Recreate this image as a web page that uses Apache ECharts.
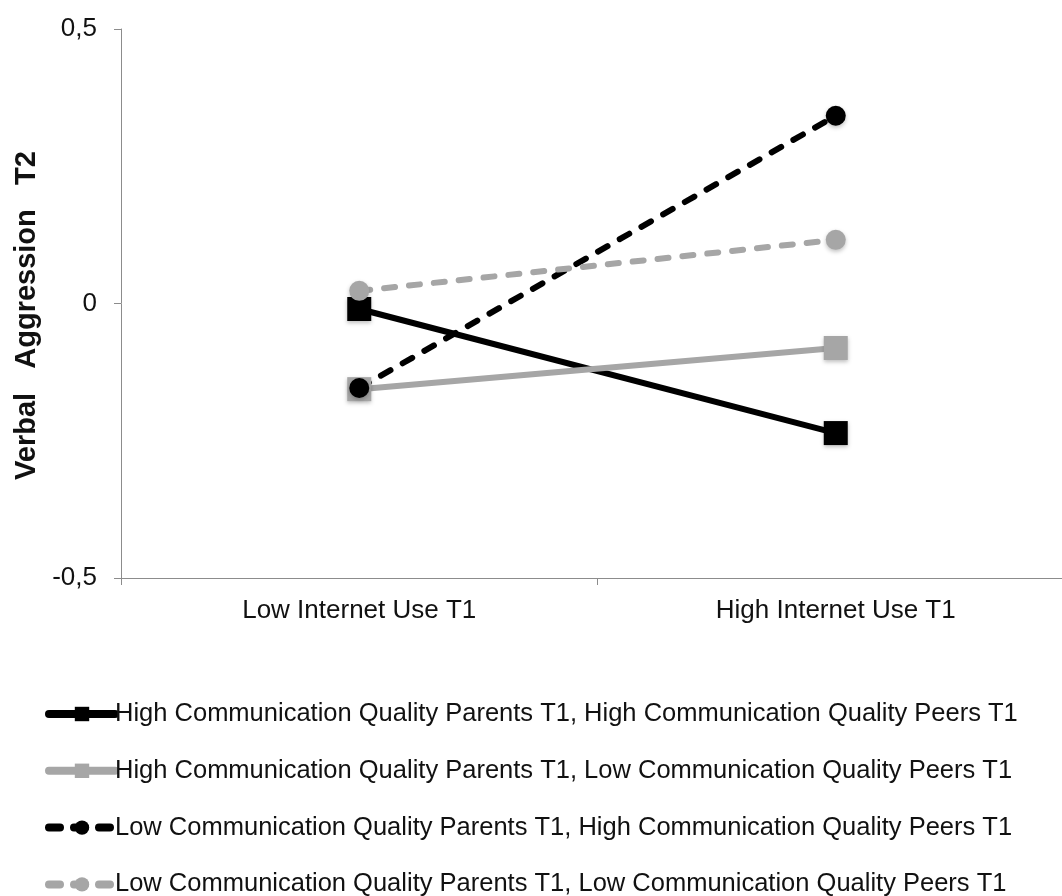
<!DOCTYPE html>
<html>
<head>
<meta charset="utf-8">
<script src="https://cdn.jsdelivr.net/npm/echarts@6/dist/echarts.min.js"></script>
<style>
    html, body { margin: 0; padding: 0; background: #fff; overflow: hidden; }
    #chart { width: 1074px; height: 910px; }
</style>
</head>
<body>
<div id="chart"></div>
<script>
    var categories = ['Low Internet Use T1', 'High Internet Use T1'];
    var seriesNames = [
        'High Communication Quality Parents T1, High Communication Quality Peers T1',
        'High Communication Quality Parents T1, Low Communication Quality Peers T1',
        'Low Communication Quality Parents T1, High Communication Quality Peers T1',
        'Low Communication Quality Parents T1, Low Communication Quality Peers T1'
    ];
    var highParHighPeer = [-0.010, -0.236];
    var highParLowPeer = [-0.156, -0.081];
    var lowParHighPeer = [-0.154, 0.342];
    var lowParLowPeer = [0.023, 0.116];

    var black = '#000000';
    var gray = '#a6a6a6';
    var font = 'Liberation Sans, Arial, sans-serif';

    function makeSeries (name, data, color, dashed, symbol, size) {
        return {
            name: name,
            type: 'line',
            data: data,
            symbol: symbol,
            symbolSize: size,
            showAllSymbol: true,
            lineStyle: {
                color: color,
                width: 6,
                type: dashed ? [11, 14] : 'solid',
                cap: dashed ? 'round' : 'butt'
            },
            itemStyle: {
                color: color,
                shadowColor: 'rgba(0,0,0,0.25)',
                shadowBlur: 4,
                shadowOffsetY: 2
            },
            emphasis: { disabled: true },
            animation: false
        };
    }

    var chart = echarts.init(document.getElementById('chart'));
    chart.setOption({
        backgroundColor: '#fff',
        grid: { left: 121, top: 29, right: 0, bottom: 332 },
        xAxis: {
            type: 'category',
            data: categories,
            boundaryGap: true,
            axisLine: { onZero: false, lineStyle: { color: '#8c8c8c', width: 1 } },
            axisTick: { show: true, length: 7, lineStyle: { color: '#8c8c8c' } },
            axisLabel: { color: '#111', fontSize: 26, fontFamily: font, margin: 20 }
        },
        yAxis: {
            type: 'value',
            min: -0.5,
            max: 0.5,
            interval: 0.5,
            name: 'Verbal   Aggression   T2   ',
            nameLocation: 'middle',
            nameGap: 69,
            nameTextStyle: { color: '#111', fontSize: 29, fontWeight: 'bold', fontFamily: font },
            axisLine: { show: true, lineStyle: { color: '#8c8c8c', width: 1 } },
            axisTick: { show: true, length: 7, lineStyle: { color: '#8c8c8c' } },
            splitLine: { show: false },
            axisLabel: {
                color: '#111',
                fontSize: 26,
                fontFamily: font,
                margin: 24,
                formatter: function (v) { return String(v).replace('.', ','); }
            }
        },
        legend: {
            orient: 'vertical',
            left: 45,
            top: 701,
            padding: 0,
            itemWidth: 66,
            itemHeight: 18,
            itemGap: 30.8,
            lineStyle: { width: 8, cap: 'round' },
            textStyle: { color: '#111', fontSize: 25.5, fontFamily: font, padding: [0, 0, 0, -5] },
            data: seriesNames
        },
        series: [
            makeSeries(seriesNames[0], highParHighPeer, black, false, 'rect', 24),
            makeSeries(seriesNames[1], highParLowPeer, gray, false, 'rect', 24),
            makeSeries(seriesNames[2], lowParHighPeer, black, true, 'circle', 20),
            makeSeries(seriesNames[3], lowParLowPeer, gray, true, 'circle', 20)
        ]
    });
</script>
</body>
</html>
